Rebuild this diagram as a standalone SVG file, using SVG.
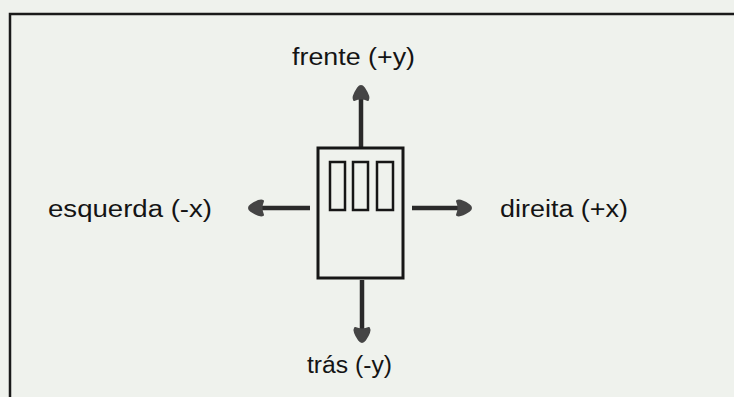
<svg xmlns="http://www.w3.org/2000/svg" width="734" height="397" viewBox="0 0 734 397">
<style>
.lbl{font-family:"Liberation Sans",Arial,sans-serif;font-size:23px;fill:#141414}
.box{fill:none;stroke:#161616;stroke-width:3}
.slot{fill:none;stroke:#161616;stroke-width:2.5}
.shaft{stroke:#2a2a2a;stroke-width:4.5;fill:none}
</style>
<defs>
<marker id="head" markerUnits="userSpaceOnUse" markerWidth="24" markerHeight="24" viewBox="-4 -12 22 24" refX="0" refY="0" orient="auto">
<path d="M-1,-7 Q2,-9 11,-3 Q15,0 11,3 Q2,9 -1,7 Q2,0 -1,-7 Z" fill="#454545" stroke="#454545" stroke-width="2" stroke-linejoin="round"/>
</marker>
</defs>
<rect width="734" height="397" fill="#eff2ed"/>
<path d="M10,397 V14 H734" fill="none" stroke="#1a1a1a" stroke-width="2.5"/>
<g id="connectors">
<line class="shaft" x1="361" y1="148" x2="361" y2="99" marker-end="url(#head)"/>
<line class="shaft" x1="362" y1="280" x2="362" y2="329" marker-end="url(#head)"/>
<line class="shaft" x1="310" y1="208" x2="262" y2="208" marker-end="url(#head)"/>
<line class="shaft" x1="412" y1="208" x2="458" y2="208" marker-end="url(#head)"/>
</g>
<g id="device">
<rect class="box" x="318" y="148" width="85" height="130"/>
<rect class="slot" x="330" y="162" width="15" height="48"/>
<rect class="slot" x="353" y="162" width="15" height="48"/>
<rect class="slot" x="377" y="162" width="16" height="48"/>
</g>
<g id="frente"><text class="lbl" x="292" y="65" textLength="123" lengthAdjust="spacingAndGlyphs">frente (+y)</text></g>
<g id="tras"><text class="lbl" x="307" y="373" textLength="85" lengthAdjust="spacingAndGlyphs">trás (-y)</text></g>
<g id="esquerda"><text class="lbl" x="48" y="217" textLength="164" lengthAdjust="spacingAndGlyphs">esquerda (-x)</text></g>
<g id="direita"><text class="lbl" x="500" y="217" textLength="128" lengthAdjust="spacingAndGlyphs">direita (+x)</text></g>
</svg>
